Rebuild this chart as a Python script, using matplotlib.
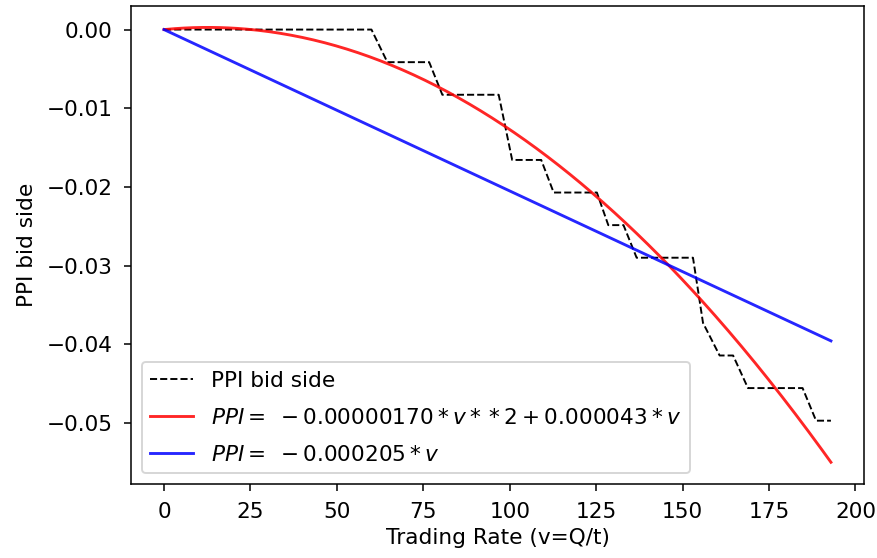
import numpy as np
import matplotlib
matplotlib.use("Agg")
import matplotlib.pyplot as plt

plt.rcParams['font.size'] = 11.3

rate = [0, 60.0, 64.6, 76.7, 80.5, 96.8, 100.7, 109.1, 112.7, 125.2, 128.5,
        132.9, 136.7, 153.0, 155.9, 160.7, 164.6, 168.9, 184.7, 188.6, 192.9]
ppi_bid = [0, 0, -0.00414, -0.00414, -0.00828, -0.00828, -0.01656, -0.01656,
           -0.0207, -0.0207, -0.02484, -0.02484, -0.02898, -0.02898, -0.03726,
           -0.0414, -0.0414, -0.04554, -0.04554, -0.04968, -0.04968]

# fitted coefficients (highest power first)
quad_coef = [-0.0000017, 0.000043, 0.0]
lin_coef = [-0.000205, 0.0]

quad_label = r'$PPI =\;-0.00000170*v**2 + 0.000043*v$'
lin_label = r'$PPI =\;-0.000205*v$'

v = np.linspace(0, max(rate), 300)

fig = plt.figure(figsize=(877 / 138, 558 / 138), dpi=138)
ax = fig.add_subplot(111)
fig.subplots_adjust(left=0.149, right=0.9855, bottom=0.1326, top=0.9898)

ax.plot(rate, ppi_bid, 'k--', lw=1, label='PPI bid side')
ax.plot(v, np.polyval(quad_coef, v), color='red', alpha=0.85, label=quad_label)
ax.plot(v, np.polyval(lin_coef, v), color='blue', alpha=0.85, label=lin_label)

ax.tick_params(pad=6)
ax.set_xlabel('Trading Rate (v=Q/t)', labelpad=3)
ax.set_ylabel('PPI bid side', labelpad=5)
ax.legend(loc='lower left', labelspacing=0.78)

fig.savefig('out.png', dpi=138)
